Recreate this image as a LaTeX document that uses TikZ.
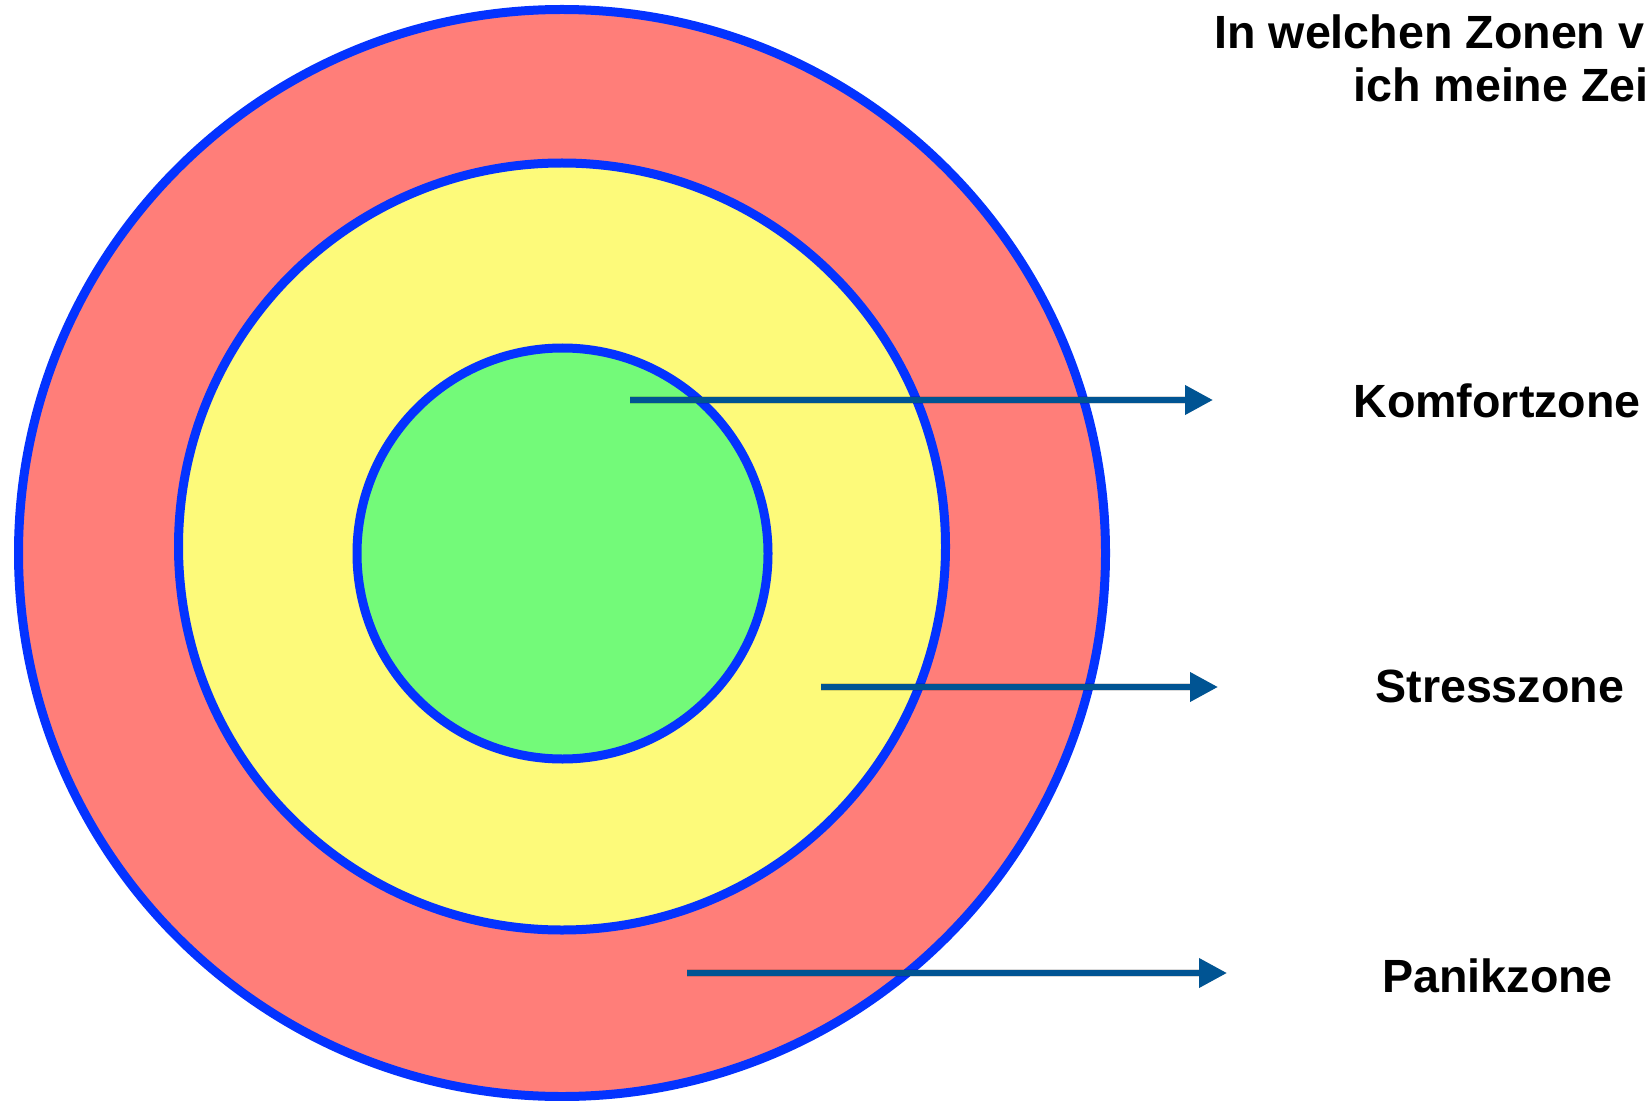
\documentclass[tikz,border=0pt]{standalone}
\usepackage{fontspec}
\setmainfont{Liberation Sans}
\usetikzlibrary{arrows.meta}
\definecolor{ringblue}{RGB}{4,51,255}
\definecolor{panicred}{RGB}{255,126,121}
\definecolor{stressyellow}{RGB}{253,250,122}
\definecolor{comfortgreen}{RGB}{115,250,121}
\definecolor{arrowblue}{RGB}{0,84,147}
\begin{document}
\begin{tikzpicture}[x=0.5pt,y=-0.5pt,
  zone/.style={circle,draw=ringblue,line width=4.5pt,inner sep=0pt,outer sep=0pt},
  lbl/.style={anchor=base west,inner sep=0pt,font=\fontsize{23.3pt}{28pt}\selectfont\bfseries},
  zonearrow/.style={draw=arrowblue,line width=3.3pt,-{Triangle[length=14pt,width=14pt]}},
  shadowline/.style={draw=black,opacity=0.15,line width=4pt,-{Triangle[length=14pt,width=14pt]}}
]
\useasboundingbox (0,0) rectangle (1647,1101);
\fill[white] (0,0) rectangle (1647,1101);
% rings
\node[zone,fill=panicred,minimum size=543.5pt] (panic) at (562,553) {};
\node[zone,fill=stressyellow,minimum size=383.5pt] (stress) at (562,546.5) {};
\node[zone,fill=comfortgreen,minimum size=205.5pt] (comfort) at (562.5,553.5) {};
% arrow end points
\coordinate (a1s) at (630,400);  \coordinate (a1e) at (1213,400);
\coordinate (a2s) at (821,687);  \coordinate (a2e) at (1218,687);
\coordinate (a3s) at (687,973);  \coordinate (a3e) at (1227,973);
% shadows
\begin{scope}[shift={(2,4)}]
\draw[shadowline] (a1s) -- (a1e);
\draw[shadowline] (a2s) -- (a2e);
\draw[shadowline] (a3s) -- (a3e);
\end{scope}
% arrows
\draw[zonearrow] (a1s) -- (a1e);
\draw[zonearrow] (a2s) -- (a2e);
\draw[zonearrow] (a3s) -- (a3e);
% labels
\node[lbl] (title1) at (1214,49) {In welchen Zonen v};
\node[lbl] (title2) at (1353,102) {ich meine Zei};
\node[lbl] (komfort) at (1353,417) {Komfortzone};
\node[lbl] (stresslbl) at (1375,702) {Stresszone};
\node[lbl] (paniklbl) at (1382,992) {Panikzone};
\end{tikzpicture}
\end{document}
